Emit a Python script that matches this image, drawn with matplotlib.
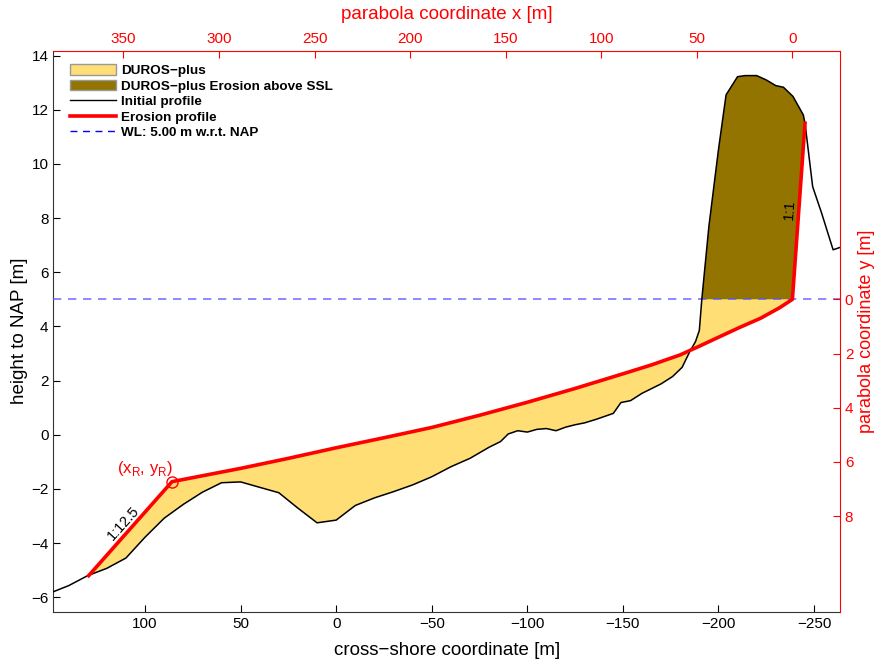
import numpy as np
import matplotlib
matplotlib.use("Agg")
import matplotlib.pyplot as plt
from matplotlib.patches import Patch
from matplotlib.lines import Line2D

plt.rcParams["font.family"] = ["Liberation Sans", "DejaVu Sans"]

# initial profile (cross-shore x, height to NAP)
init_x = np.array([150, 140, 130, 120, 110, 100, 90, 80, 70, 60, 50, 40, 30, 20, 10, 0,
                   -10, -20, -30, -40, -50, -60, -70, -80, -86, -90, -95, -100, -105, -110,
                   -115, -120, -125, -130, -136, -145, -149, -154, -160, -170, -176, -181,
                   -185, -188, -190, -191.3, -195, -200, -204, -210, -214, -220, -225, -230,
                   -234, -239, -244.4, -245.3, -249.3, -254, -260, -265])
init_y = np.array([-5.85, -5.57, -5.2, -4.93, -4.55, -3.78, -3.08, -2.57, -2.12, -1.77, -1.74,
                   -1.94, -2.14, -2.71, -3.25, -3.15, -2.61, -2.33, -2.10, -1.85, -1.55, -1.18,
                   -0.87, -0.46, -0.25, 0.03, 0.15, 0.10, 0.20, 0.23, 0.15, 0.28, 0.37, 0.44,
                   0.57, 0.79, 1.19, 1.26, 1.53, 1.88, 2.15, 2.49, 3.07, 3.44, 3.85, 5.0, 7.69,
                   10.52, 12.55, 13.22, 13.26, 13.26, 13.10, 12.89, 12.83, 12.49, 11.81, 11.5,
                   9.16, 8.18, 6.83, 6.95])

# erosion profile: toe -> (xR, yR) -> parabola -> WL point -> 1:1 top
ero_x = np.array([129.5, 85.9, 50, 25, 0, -25, -50, -75, -100, -125, -150, -165, -180,
                  -190, -200, -211, -222, -232, -238.7, -245.3])
ero_y = np.array([-5.2, -1.73, -1.24, -0.87, -0.48, -0.11, 0.27, 0.72, 1.2, 1.71, 2.25,
                  2.58, 2.95, 3.27, 3.6, 3.96, 4.3, 4.69, 5.0, 11.5])

wl = 5.0
x0_parab = -238.7
xR, yR = 85.9, -1.73

yellow = "#FFDE75"
brown = "#937400"

fig = plt.figure(figsize=(8.77, 6.65), dpi=100)
ax = fig.add_axes([0.0608, 0.0802, 0.897, 0.8436])

# DUROS-plus area (below WL)
m = (init_x > x0_parab) & (init_x < ero_x[0])
poly_x = np.concatenate([ero_x[:-1], init_x[m][::-1]])
poly_y = np.concatenate([ero_y[:-1], np.minimum(init_y[m], wl)[::-1]])
ax.fill(poly_x, poly_y, color=yellow, lw=0, zorder=1)

# erosion above SSL
mb = (init_x <= -191.3) & (init_x >= ero_x[-1])
bx = np.concatenate([init_x[mb], [ero_x[-2]]])
by = np.concatenate([init_y[mb], [ero_y[-2]]])
ax.fill(bx, by, color=brown, lw=0, zorder=1)

ax.axhline(wl, color="#5555ff", alpha=0.8, ls=(0, (5, 4)), lw=1.2, zorder=3)
ax.plot(init_x, init_y, color="black", lw=1.1, zorder=4)
ax.plot(ero_x, ero_y, color="red", lw=2.6, zorder=5)
ax.plot([xR], [yR], marker="o", ms=8, mfc="none", mec="red", mew=1, zorder=6)

ax.text(100, -1.25, r"(x$_\mathregular{R}$, y$_\mathregular{R}$)", color="red",
        fontsize=12, ha="center", va="center")
ax.text(111.5, -3.25, "1:12.5", rotation=48, fontsize=10.5, ha="center", va="center")
ax.text(-237.4, 8.3, "1:1", rotation=86, fontsize=10.5, ha="center", va="center")

ax.set_xlim(148, -263.6)
ax.set_ylim(-6.53, 14.18)
ax.set_xticks([100, 50, 0, -50, -100, -150, -200, -250])
ax.set_yticks(np.arange(-6, 15, 2))
ax.tick_params(direction="in", labelsize=11, length=5, top=False, right=False)
ax.set_xlabel("cross\u2212shore coordinate [m]", fontsize=13.5, labelpad=8)
ax.set_ylabel("height to NAP [m]", fontsize=13.5, labelpad=2)
ax.spines["top"].set_visible(False)
ax.spines["right"].set_visible(False)
for s in ["left", "bottom"]:
    ax.spines[s].set_color("#333333")

# top axis: parabola x
axt = ax.twiny()
lo, hi = ax.get_xlim()
axt.set_xlim(lo - x0_parab, hi - x0_parab)
axt.set_xticks([350, 300, 250, 200, 150, 100, 50, 0])
axt.tick_params(direction="in", colors="red", labelsize=11, length=5)
axt.set_xlabel("parabola coordinate x [m]", color="red", fontsize=13.5, labelpad=9)
for s in ["left", "bottom", "right"]:
    axt.spines[s].set_visible(False)
axt.spines["top"].set_color("red")

# right axis: parabola y
axr = ax.twinx()
ylo, yhi = ax.get_ylim()
axr.set_ylim(wl - ylo, wl - yhi)
axr.set_yticks([0, 2, 4, 6, 8])
axr.tick_params(direction="in", colors="red", labelsize=11, length=5)
axr.set_ylabel("parabola coordinate y [m]", color="red", fontsize=13, labelpad=3)
for s in ["left", "bottom", "top"]:
    axr.spines[s].set_visible(False)
axr.spines["right"].set_color("red")

handles = [
    Patch(facecolor=yellow, edgecolor="#999999"),
    Patch(facecolor=brown, edgecolor="#999999"),
    Line2D([], [], color="black", lw=1),
    Line2D([], [], color="red", lw=2.6),
    Line2D([], [], color="blue", lw=1, ls=(0, (5, 4))),
]
labels = ["DUROS\u2212plus", "DUROS\u2212plus Erosion above SSL", "Initial profile",
          "Erosion profile", "WL: 5.00 m w.r.t. NAP"]
leg = ax.legend(handles, labels, loc="upper left", bbox_to_anchor=(0.004, 1.0), frameon=False,
                prop={"weight": "bold", "size": 9.7}, handlelength=3.45, handleheight=0.85,
                labelspacing=0.18, handletextpad=0.35, borderpad=0.5)
leg.set_zorder(10)

fig.savefig("out.png", dpi=100)
